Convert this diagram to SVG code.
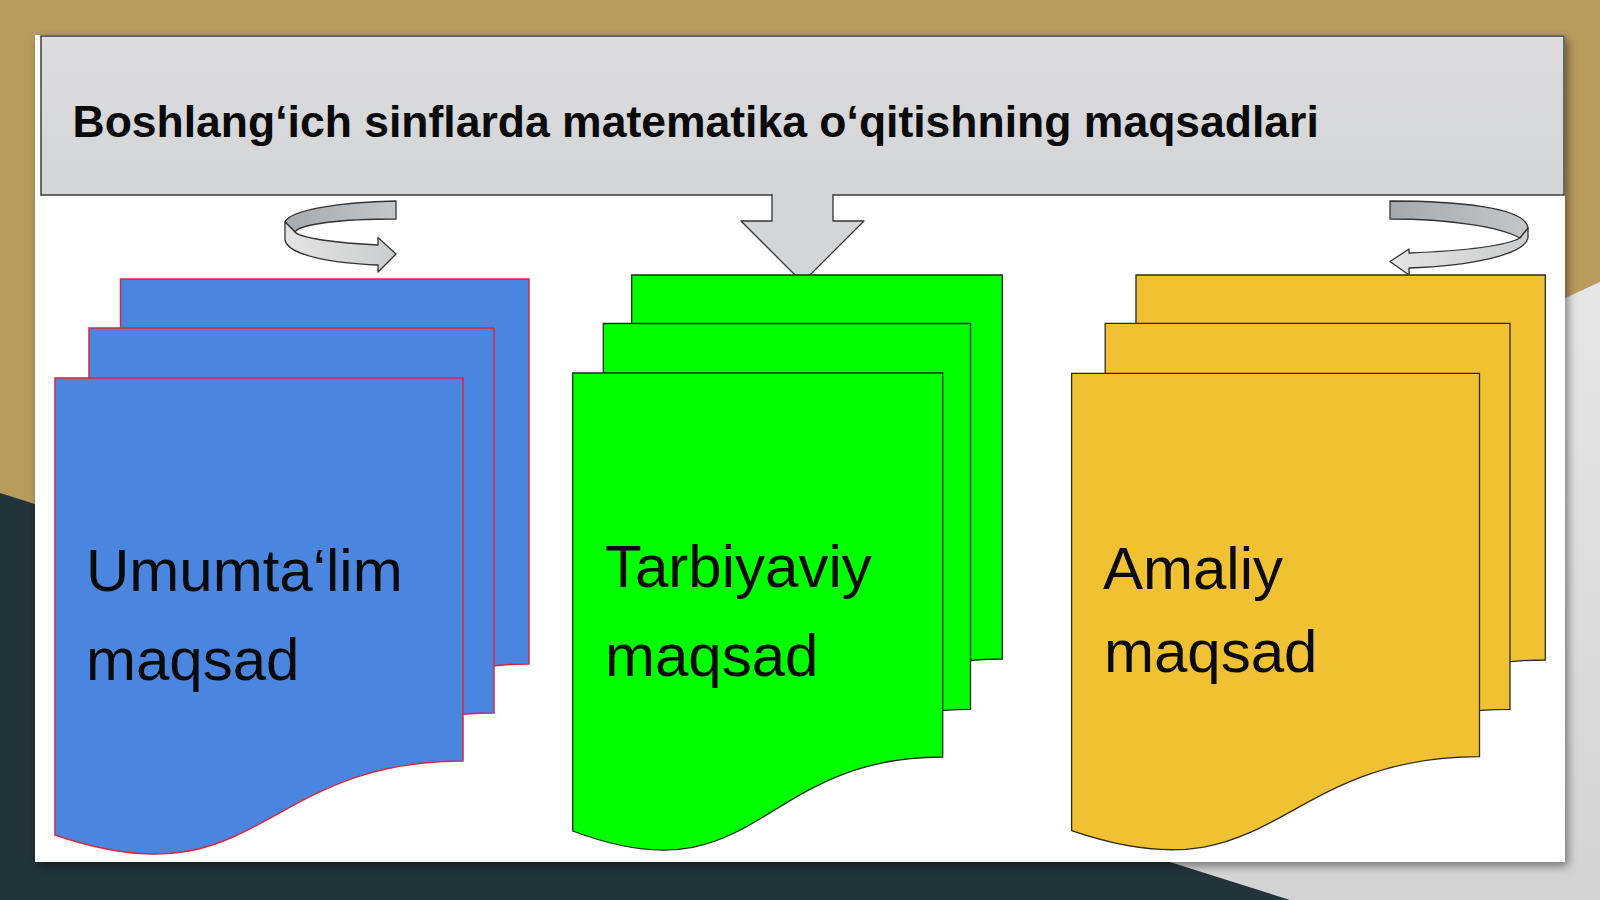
<svg xmlns="http://www.w3.org/2000/svg" width="1600" height="900" viewBox="0 0 1600 900">
  <defs>
    <style>
      .title { font-family: "Liberation Sans", Arial, sans-serif; font-weight: bold; font-size: 44.5px; fill: #0A0A0A; }
      .label { font-family: "Liberation Sans", Arial, sans-serif; font-size: 60px; fill: #0A0A0A; }
      .blue { fill: #4A86E0; stroke: #D8283C; stroke-width: 1.5; }
      .green { fill: #00FF00; stroke: #1B2E1B; stroke-width: 1.3; }
      .yellow { fill: #F0C233; stroke: #2E2A1E; stroke-width: 1.3; }
      .arr { stroke: #333333; stroke-width: 1.3; stroke-linejoin: round; }
      .band-dark { fill: url(#bandDark); }
      .band-light { fill: url(#bandLight); }
    </style>
    <linearGradient id="hdr" x1="0" y1="0" x2="0" y2="1">
      <stop offset="0" stop-color="#DCDCE0"/>
      <stop offset="1" stop-color="#D4D5D7"/>
    </linearGradient>
    <linearGradient id="rightBg" x1="0" y1="0" x2="0" y2="1">
      <stop offset="0" stop-color="#E6E6E6"/>
      <stop offset="1" stop-color="#D3D3D3"/>
    </linearGradient>
    <linearGradient id="bandDark" x1="0" y1="0" x2="1" y2="0">
      <stop offset="0" stop-color="#A7AAAD"/>
      <stop offset="1" stop-color="#C4C6C8"/>
    </linearGradient>
    <linearGradient id="bandLight" x1="0" y1="0" x2="1" y2="0">
      <stop offset="0" stop-color="#E4E4E4"/>
      <stop offset="1" stop-color="#CBCCCD"/>
    </linearGradient>
    <filter id="shadow" x="-5%" y="-5%" width="110%" height="110%">
      <feDropShadow dx="3" dy="4" stdDeviation="5" flood-color="#000000" flood-opacity="0.45"/>
    </filter>
  </defs>

  <g id="background">
    <rect x="0" y="0" width="1600" height="900" fill="#B99B5D"/>
    <polygon points="1600,282 1300,420 900,900 1600,900" fill="url(#rightBg)"/>
    <polygon points="0,493 1290,900 0,900" fill="#22333B"/>
    <rect x="35" y="35" width="1530" height="827" fill="#FFFFFF" filter="url(#shadow)"/>
  </g>

  <g id="header">
    <rect x="41" y="36" width="1523" height="159" fill="url(#hdr)" stroke="#3C3C3C" stroke-width="1.5"/>
    <text class="title" x="72.5" y="137">Boshlang‘ich sinflarda matematika o‘qitishning maqsadlari</text>
  </g>

  <g id="connectors">
    <path id="arrow-down" class="arr" fill="#D4D5D7" d="M772,194 V221 H741 L802.5,282.5 L864,221 H833 V194"/>
    <g id="arrow-left-turn">
      <path class="arr band-dark" d="M396,201 C340,202 290,210 285,222 L295,232 C300,224 340,219 396,219 Z"/>
      <path class="arr band-light" d="M285,222 L285,240 C288,255 330,263 378,265 L378,272 L396,254 L378,237.5 L378,245 C335,243 300,238 295,232 Z"/>
    </g>
    <g id="arrow-right-turn">
      <path class="arr band-dark" d="M1390,201 C1455,201 1526,207 1528,228 L1520,238 C1500,227 1450,219 1390,219 Z"/>
      <path class="arr band-light" d="M1528,228 L1528,238 C1524,255 1470,266 1409,268 L1409,275 L1390,261.5 L1409,249 L1409,253 C1460,251 1505,246 1520,238 Z"/>
    </g>
  </g>

  <g id="doc-umumtalim">
    <path class="blue" d="M120.5,279 H529 V664 C324.75,664 324.75,808 120.5,738 Z"/>
    <path class="blue" d="M89,328 H494 V713 C291.5,713 291.5,857 89,787 Z"/>
    <path class="blue" d="M55,378 H463 V761 C259,761 259,905 55,835 Z"/>
    <text class="label" x="86" y="591">Umumta‘lim</text>
    <text class="label" x="86" y="680">maqsad</text>
  </g>

  <g id="doc-tarbiyaviy">
    <path class="green" d="M631.7,275 H1002.3 V659 C817,659 817,803 631.7,733 Z"/>
    <path class="green" d="M603.3,323.5 H970.5 V709.3 C786.9,709.3 786.9,853.3 603.3,783.3 Z"/>
    <path class="green" d="M572.7,373 H942.7 V757 C757.7,757 757.7,901 572.7,831 Z"/>
    <text class="label" x="605" y="587">Tarbiyaviy</text>
    <text class="label" x="605" y="676">maqsad</text>
  </g>

  <g id="doc-amaliy">
    <path class="yellow" d="M1136,275 H1545.3 V660 C1340.6,660 1340.6,804 1136,734 Z"/>
    <path class="yellow" d="M1105.2,323.3 H1510 V709.3 C1307.6,709.3 1307.6,853.3 1105.2,783.3 Z"/>
    <path class="yellow" d="M1071.6,373.3 H1479.5 V756.7 C1275.5,756.7 1275.5,900.7 1071.6,830.7 Z"/>
    <text class="label" x="1103" y="589">Amaliy</text>
    <text class="label" x="1104" y="672">maqsad</text>
  </g>
</svg>
